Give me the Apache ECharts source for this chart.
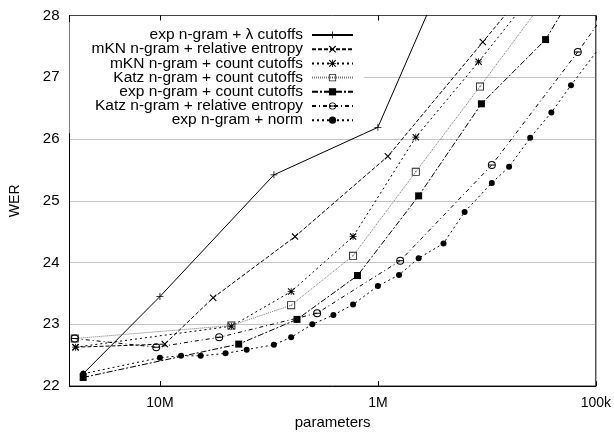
<!DOCTYPE html>
<html>
<head>
<meta charset="utf-8">
<script src="https://cdn.jsdelivr.net/npm/echarts@6/dist/echarts.min.js"></script>
<style>
  html, body { margin: 0; padding: 0; background: #fff; }
  #chart { width: 614px; height: 435px; }
</style>
</head>
<body>
<div id="chart"></div>
<script>
// series names, as in the legend
const seriesNames = [
    'exp n-gram + λ cutoffs',
    'mKN n-gram + relative entropy',
    'mKN n-gram + count cutoffs',
    'Katz n-gram + count cutoffs',
    'exp n-gram + count cutoffs',
    'Katz n-gram + relative entropy',
    'exp n-gram + norm'
];

// parameters (x) and WER (y) for each series
const lambdaParams = [2.25e7, 1.0e7, 3.0e6, 1.0e6, 5.0e5];
const lambdaWer = [22.20, 23.45, 25.42, 26.19, 28.63];

const mknReParams = [2.44e7, 9.5e6, 5.7e6, 2.4e6, 9.0e5, 3.3e5, 2.0e5];
const mknReWer = [22.63, 22.68, 23.43, 24.42, 25.72, 27.57, 28.5];

const mknCcParams = [2.44e7, 4.7e6, 2.5e6, 1.3e6, 6.7e5, 3.45e5, 2.0e5];
const mknCcWer = [22.63, 22.97, 23.53, 24.42, 26.03, 27.25, 28.3];

const katzCcParams = [2.46e7, 4.7e6, 2.5e6, 1.3e6, 6.7e5, 3.4e5, 1.6e5];
const katzCcWer = [22.77, 22.98, 23.31, 24.11, 25.47, 26.85, 28.4];

const expCcParams = [2.25e7, 4.35e6, 2.35e6, 1.24e6, 6.5e5, 3.35e5, 1.7e5, 1.2e5];
const expCcWer = [22.14, 22.68, 23.08, 23.79, 25.08, 26.57, 27.61, 28.5];

const katzReParams = [2.46e7, 1.04e7, 5.35e6, 1.9e6, 7.9e5, 3.0e5, 1.21e5, 8.0e4];
const katzReWer = [22.77, 22.63, 22.79, 23.18, 24.03, 25.58, 27.41, 28.3];

const normParams = [2.25e7, 1.0e7, 8.0e6, 6.5e6, 5.0e6, 4.0e6, 3.0e6, 2.5e6, 2.0e6, 1.6e6, 1.3e6,
    1.0e6, 8.0e5, 6.5e5, 5.0e5, 4.0e5, 3.0e5, 2.5e5, 2.0e5, 1.6e5, 1.3e5, 8.0e4];
const normWer = [22.20, 22.46, 22.49, 22.49, 22.53, 22.59, 22.67, 22.79, 23.00, 23.15, 23.32,
    23.62, 23.80, 24.07, 24.31, 24.82, 25.29, 25.55, 26.02, 26.43, 26.87, 27.85];

// x tick labels
const xTickLabels = { 7: '10M', 6: '1M', 5: '100k' };

const FONT = 'Liberation Sans, Arial, sans-serif';

// gnuplot-like point shapes
const plusPath = 'path://M4,0h1v4h4v1h-4v4h-1v-4h-4v-1h4z';
const crossPath = 'path://M0,1L1,0L4.5,3.5L8,0L9,1L5.5,4.5L9,8L8,9L4.5,5.5L1,9L0,8L3.5,4.5Z';
const starPath = 'path://M4,0h1v4h4v1h-4v4h-1v-4h-4v-1h4z M0,1L1,0L4.5,3.5L8,0L9,1L5.5,4.5L9,8L8,9L4.5,5.5L1,9L0,8L3.5,4.5Z';
const boxDotPath = 'path://M0,0H9V9H0Z M1,1V8H8V1Z M4,4H5V5H4Z';
const ringPath = 'path://M4.5,0A4.5,4.5 0 1,1 4.5,9A4.5,4.5 0 1,1 4.5,0Z M4.5,1.1A3.4,3.4 0 1,0 4.5,7.9A3.4,3.4 0 1,0 4.5,1.1Z M1.2,4H7.8V5H1.2Z';

const zip = (xs, ys) => xs.map((x, i) => [x, ys[i]]);

const makeSeries = (name, xs, ys, symbol, size, dash, lineColor, markColor) => ({
    name: name,
    type: 'line',
    data: zip(xs, ys),
    symbol: symbol,
    symbolSize: size,
    showAllSymbol: true,
    clip: true,
    animation: false,
    lineStyle: { color: lineColor, width: 1, type: dash },
    itemStyle: { color: markColor, borderWidth: 0 },
    emphasis: { disabled: true }
});

const series = [
    makeSeries(seriesNames[0], lambdaParams, lambdaWer, plusPath, 7, 'solid', '#000', '#000'),
    makeSeries(seriesNames[1], mknReParams, mknReWer, crossPath, 7, [4, 2], '#000', '#000'),
    makeSeries(seriesNames[2], mknCcParams, mknCcWer, starPath, 7, [2, 3], '#000', '#000'),
    makeSeries(seriesNames[3], katzCcParams, katzCcWer, boxDotPath, 8, [1, 1], '#777', '#222'),
    makeSeries(seriesNames[4], expCcParams, expCcWer, 'rect', 7, [6, 2, 2, 2], '#000', '#000'),
    makeSeries(seriesNames[5], katzReParams, katzReWer, ringPath, 8, [4, 3, 1, 3], '#000', '#000'),
    makeSeries(seriesNames[6], normParams, normWer, 'circle', 6, [2, 3], '#000', '#000')
];

const tickLabel = (v) => {
    const e = Math.log10(v);
    const r = Math.round(e);
    if (Math.abs(e - r) < 1e-6 && xTickLabels[r]) return xTickLabels[r];
    return '';
};

const chart = echarts.init(document.getElementById('chart'), null, { renderer: 'canvas' });
chart.setOption({
    backgroundColor: '#fff',
    animation: false,
    textStyle: { fontFamily: FONT },
    grid: {
        left: 69.5, right: 17.5, top: 15.5, bottom: 48,
        show: true, borderColor: '#000', borderWidth: 1, backgroundColor: 'transparent'
    },
    legend: {
        data: seriesNames,
        orient: 'vertical',
        align: 'right',
        right: 250,
        top: 22,
        padding: [5, 10, 5, 22],
        itemGap: -1.8,
        itemWidth: 41,
        itemHeight: 9,
        backgroundColor: '#fff',
        selectedMode: false,
        textStyle: { fontFamily: FONT, fontSize: 15.5, color: '#000', padding: [0, 4, 0, 0] }
    },
    xAxis: [{
        type: 'log',
        logBase: 10,
        min: 1e5,
        max: 2.6e7,
        inverse: true,
        name: 'parameters',
        nameLocation: 'middle',
        nameGap: 28,
        nameTextStyle: { fontFamily: FONT, fontSize: 15, color: '#000' },
        axisLine: { lineStyle: { color: '#000', width: 1 } },
        axisTick: { inside: true, length: 5, lineStyle: { color: '#000' } },
        minorTick: { show: false },
        axisLabel: { formatter: tickLabel, fontFamily: FONT, fontSize: 14, color: '#000', margin: 10 },
        splitLine: { show: false }
    }, {
        type: 'log',
        logBase: 10,
        min: 1e5,
        max: 2.6e7,
        inverse: true,
        position: 'top',
        axisLine: { show: false },
        axisTick: { inside: true, length: 5, lineStyle: { color: '#000' } },
        axisLabel: { show: false },
        splitLine: { show: false }
    }],
    yAxis: {
        type: 'value',
        min: 22,
        max: 28,
        interval: 1,
        name: 'WER',
        nameLocation: 'middle',
        nameGap: 47,
        nameTextStyle: { fontFamily: FONT, fontSize: 14, color: '#000' },
        axisLine: { show: true, lineStyle: { color: '#000', width: 1 } },
        axisTick: { show: false },
        axisLabel: { fontFamily: FONT, fontSize: 15, color: '#000', margin: 10 },
        splitLine: { show: true, lineStyle: { color: '#888', width: 1, type: [1, 1] } }
    },
    series: series
});
</script>
</body>
</html>
